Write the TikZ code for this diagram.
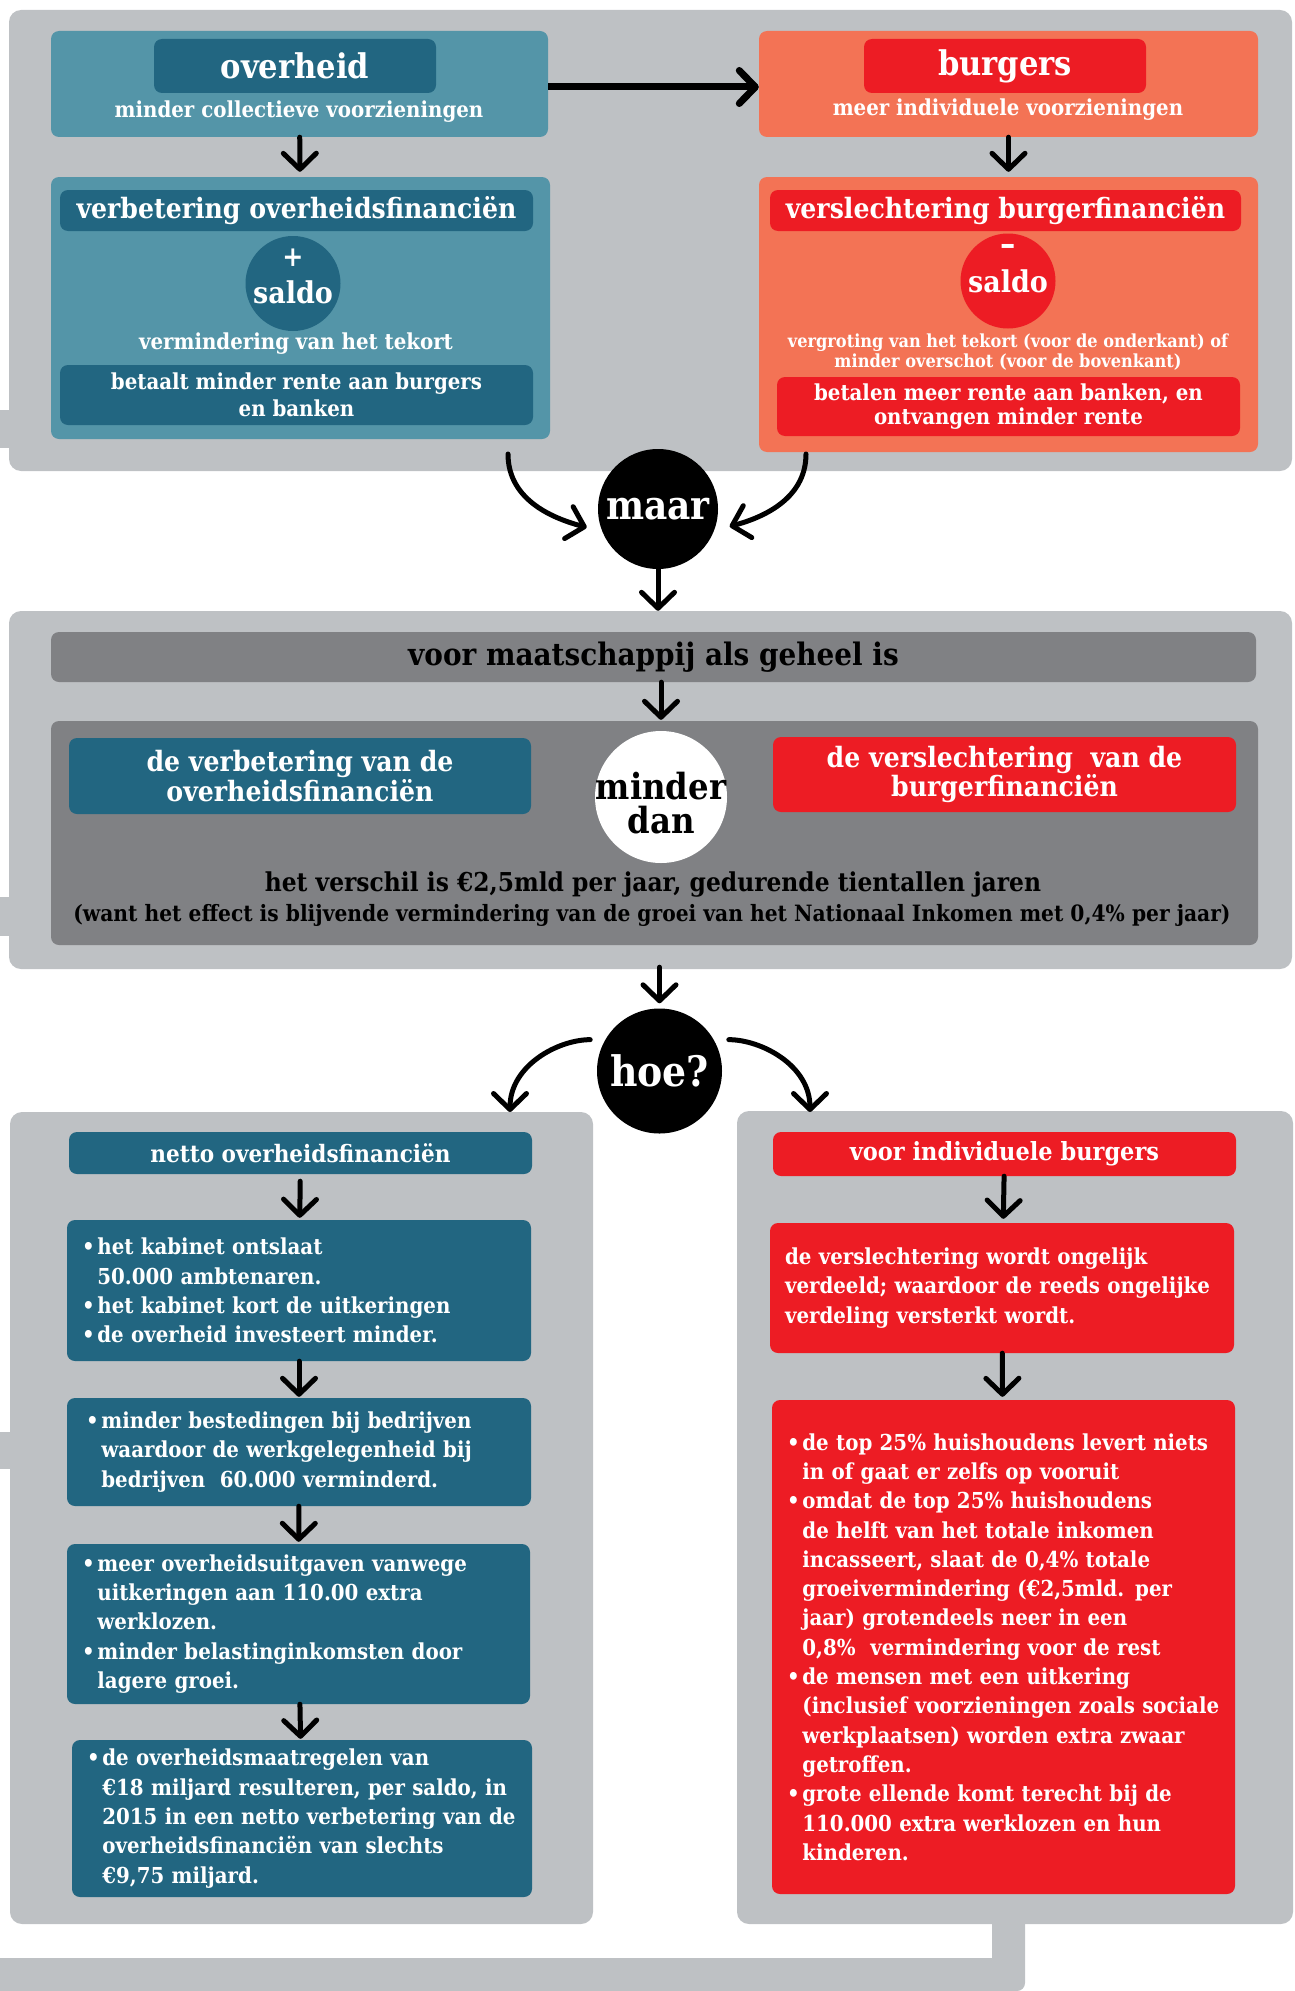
\documentclass[tikz,border=0pt]{standalone}
\usepackage{fontspec}
\setmainfont{DejaVu Serif}[FakeStretch=0.9]
\usepackage{tikz}
\usetikzlibrary{arrows.meta, positioning}
\definecolor{panelgray}{HTML}{BEC1C4}
\definecolor{darkgray}{HTML}{808184}
\definecolor{lightteal}{HTML}{5495A8}
\definecolor{darkteal}{HTML}{226681}
\definecolor{salmon}{HTML}{F37355}
\definecolor{signalred}{HTML}{ED1C24}
\tikzset{>={Straight Barb[length=16pt,width=33pt,round]}}
\newcommand\fsz[2]{\fontsize{#1}{#2}\selectfont\bfseries}
\newcommand\bulpt{\makebox[0.7em][l]{\textbullet}}
\newcommand\bulin{\hspace*{0.7em}}

\begin{document}
\begin{tikzpicture}[x=1pt, y=1pt,
    colbox/.style={rectangle, rounded corners=8pt, inner sep=0pt, text=white, align=center},
    bulbox/.style={rectangle, rounded corners=8pt, inner xsep=15pt, inner ysep=0pt, text=white, align=left, text width=#1, font=\fsz{22}{29.3}},
    lbl/.style={inner sep=0pt, text=white},
    arr/.style={->, line width=5pt, line cap=round}]
	\useasboundingbox (0,0) rectangle (1295,-1991);

	% grey panels
	\fill[panelgray] (0,-410) rectangle (14,-448);
	\fill[panelgray] (0,-897) rectangle (14,-936);
	\fill[panelgray] (0,-1432) rectangle (14,-1469);
	\fill[panelgray] (0,-1958) rectangle (1000,-1991);
	\fill[panelgray, rounded corners=8pt] (992,-1900) rectangle (1025,-1991);
	\fill[panelgray, rounded corners=12pt] (9,-10) rectangle (1292,-471);
	\fill[panelgray, rounded corners=12pt] (9,-611) rectangle (1292,-969);
	\fill[panelgray, rounded corners=12pt] (10,-1112) rectangle (593,-1924);
	\fill[panelgray, rounded corners=12pt] (737,-1111) rectangle (1293,-1924);

	% overheid / burgers
	\node[colbox, fill=lightteal, minimum width=497pt, minimum height=106pt] (ovbox) at (299.5,-84) {};
	\node[colbox, fill=darkteal, minimum width=282pt, minimum height=54pt, font=\fsz{34}{34}] (ovtitle) at (295,-66) {overheid};
	\node[lbl, font=\fsz{22}{22}] (ovtext) at (299,-112) {minder collectieve voorzieningen};
	\node[colbox, fill=salmon, minimum width=499pt, minimum height=106pt] (bubox) at (1008.5,-84) {};
	\node[colbox, fill=signalred, minimum width=282pt, minimum height=54pt, font=\fsz{34}{34}] (butitle) at (1005,-66) {burgers};
	\node[lbl, font=\fsz{22}{22}] (butext) at (1008,-110) {meer individuele voorzieningen};

	\node[colbox, fill=lightteal, minimum width=499pt, minimum height=262pt] (ovfin) at (300.5,-308) {};
	\node[colbox, fill=darkteal, minimum width=473pt, minimum height=41pt, font=\fsz{28}{28}] (ovfintitle) at (296.5,-210.5) {verbetering overheidsfinanciën};
	\node[circle, fill=darkteal, minimum size=95pt, inner sep=0pt] (plus) at (293,-283.5) {};
	\node[lbl, font=\fsz{28}{28}] (plussign) at (293,-258) {+};
	\node[lbl, font=\fsz{30}{30}] (plussaldo) at (293,-292) {saldo};
	\node[lbl, font=\fsz{22}{22}] (tekort) at (296,-344) {vermindering van het tekort};
	\node[colbox, fill=darkteal, minimum width=473pt, minimum height=60pt, font=\fsz{22}{27}] (ovrente) at (296.5,-395) {betaalt minder rente aan burgers\\en banken};

	\node[colbox, fill=salmon, minimum width=499pt, minimum height=275pt] (bufin) at (1008.5,-314.5) {};
	\node[colbox, fill=signalred, minimum width=471pt, minimum height=41pt, font=\fsz{28}{28}] (bufintitle) at (1005.5,-210.5) {verslechtering burgerfinanciën};
	\node[circle, fill=signalred, minimum size=95pt, inner sep=0pt] (minus) at (1008,-281) {};
	\node[lbl, font=\fsz{34}{34}] (minsign) at (1008,-250) {–};
	\node[lbl, font=\fsz{30}{30}] (minsaldo) at (1008,-281) {saldo};
	\node[lbl, font=\fsz{18}{20}, align=center] (groei) at (1008,-352) {vergroting van het tekort (voor de onderkant) of\\minder overschot (voor de bovenkant)};
	\node[colbox, fill=signalred, minimum width=463pt, minimum height=59pt, font=\fsz{22}{24}] (burente) at (1008.5,-406.5) {betalen meer rente aan banken, en\\ontvangen minder rente};

	\draw[->, line width=7pt] ([yshift=-3pt]ovbox.east) -- ([yshift=-3pt]bubox.west);
	\draw[arr, shorten >=5pt] (ovbox) -- (ovfin);
	\draw[arr, shorten >=5pt] (bubox) -- (bufin);

	% maar
	\coordinate (lstart) at (508,-454);
	\coordinate (rstart) at (806,-454);
	\node[circle, fill=black, minimum size=120pt, inner sep=0pt, text=white, font=\fsz{40}{40}] (maar) at (658,-509) {maar};
	\draw[arr, shorten >=16pt] (lstart) to[out=-90, in=165] (maar.202);
	\draw[arr, shorten >=16pt] (rstart) to[out=-90, in=15] (maar.-21);

	% maatschappij
	\node[colbox, fill=darkgray, minimum width=1205pt, minimum height=50pt, text=black, font=\fsz{31}{31}] (geheel) at (653.5,-657) {voor maatschappij als geheel is};
	\node[colbox, fill=darkgray, minimum width=1207pt, minimum height=224pt] (geheelbox) at (654.5,-833) {};
	\node[colbox, fill=darkteal, minimum width=462pt, minimum height=76pt, font=\fsz{28}{28}] (verb) at (300,-776) {de verbetering van de\\overheidsfinanciën};
	\node[circle, fill=white, minimum size=132pt, inner sep=0pt] (mdan) at (661,-797) {};
	\node[lbl, text=black, align=center, font=\fsz{36}{34}] (mdantxt) at (661,-803) {minder\\dan};
	\node[colbox, fill=signalred, minimum width=463pt, minimum height=75pt, font=\fsz{28}{28}] (versl) at (1004.5,-774.5) {de verslechtering\ \ van de\\burgerfinanciën};
	\node[lbl, text=black, font=\fsz{26}{26}] (verschil) at (653,-885) {het verschil is €2,5mld per jaar, gedurende tientallen jaren};
	\node[lbl, text=black, font=\fsz{22.5}{23}] (want) at (652,-915) {(want het effect is blijvende vermindering van de groei van het Nationaal Inkomen met 0,4\% per jaar)};
	\draw[arr, shorten >=21pt] (maar) -- (maar |- geheel.north);
	\draw[arr, shorten >=11pt] (mdan |- geheel.south) -- (mdan);

	% hoe
	\node[circle, fill=black, minimum size=125pt, inner sep=0pt, text=white, font=\fsz{42}{42}] (hoe) at (659.5,-1071) {hoe?};
	\coordinate (hl) at (510,-1112);
	\coordinate (hr) at (810,-1112);
	\draw[arr, shorten <=22pt, shorten >=5pt] (hoe |- geheelbox.south) -- (hoe);
	\draw[arr, shorten <=15pt] (hoe.150) to[out=180, in=90] (hl);
	\draw[arr, shorten <=15pt] (hoe.30) to[out=0, in=90] (hr);

	% netto overheidsfinancien
	\node[colbox, fill=darkteal, minimum width=463pt, minimum height=42pt, font=\fsz{24}{24}] (netto) at (300.5,-1153) {netto overheidsfinanciën};
	\node[bulbox=434pt, fill=darkteal, minimum height=141pt] (nb1) at (299,-1290.5) {\bulpt het kabinet ontslaat\\\bulin 50.000 ambtenaren.\\\bulpt het kabinet kort de uitkeringen\\\bulpt de overheid investeert minder.};
	\node[bulbox=434pt, fill=darkteal, minimum height=108pt] (nb2) at (299,-1452) {\hspace*{4pt}\bulpt minder bestedingen bij bedrijven\\\hspace*{4pt}\bulin waardoor de werkgelegenheid bij\\\hspace*{4pt}\bulin bedrijven\ \ 60.000 verminderd.};
	\node[bulbox=433pt, fill=darkteal, minimum height=160pt] (nb3) at (298.5,-1624) {\bulpt meer overheidsuitgaven vanwege\\\bulin uitkeringen aan 110.00 extra\\\bulin werklozen.\\\bulpt minder belastinginkomsten door\\\bulin lagere groei.};
	\node[bulbox=430pt, fill=darkteal, minimum height=157pt] (nb4) at (302,-1818.5) {\bulpt de overheidsmaatregelen van\\\bulin €18 miljard resulteren, per saldo, in\\\bulin 2015 in een netto verbetering van de\\\bulin overheidsfinanciën van slechts\\\bulin €9,75 miljard.};
	\draw[arr, shorten <=7pt, shorten >=2pt] (netto) -- (nb1);
	\draw[arr, shorten >=1pt] (nb1) -- (nb2);
	\draw[arr, shorten >=2pt] (nb2) -- (nb3);
	\draw[arr, shorten >=1pt] (nb3) -- (nb4);

	% individuele burgers
	\node[colbox, fill=signalred, minimum width=463pt, minimum height=44pt, font=\fsz{25}{25}] (indiv) at (1004.5,-1154) {voor individuele burgers};
	\node[bulbox=434pt, fill=signalred, minimum height=130pt] (bb1) at (1002,-1288) {de verslechtering wordt ongelijk\\verdeeld; waardoor de reeds ongelijke\\verdeling versterkt wordt.};
	\node[bulbox=433pt, fill=signalred, minimum height=494pt] (bb2) at (1003.5,-1647) {\bulpt de top 25\% huishoudens levert niets\\\bulin in of gaat er zelfs op vooruit\\\bulpt omdat de top 25\% huishoudens\\\bulin de helft van het totale inkomen\\\bulin incasseert, slaat de 0,4\% totale\\\bulin groeivermindering (€2,5mld. per\\\bulin jaar) grotendeels neer in een\\\bulin 0,8\%\ \ vermindering voor de rest\\\bulpt de mensen met een uitkering\\\bulin (inclusief voorzieningen zoals sociale\\\bulin werkplaatsen) worden extra zwaar\\\bulin getroffen.\\\bulpt grote ellende komt terecht bij de\\\bulin 110.000 extra werklozen en hun\\\bulin kinderen.};
	\draw[arr, shorten >=4pt] (indiv) -- (bb1);
	\draw[arr, shorten >=3pt] (bb1) -- (bb2);
\end{tikzpicture}
\end{document}
